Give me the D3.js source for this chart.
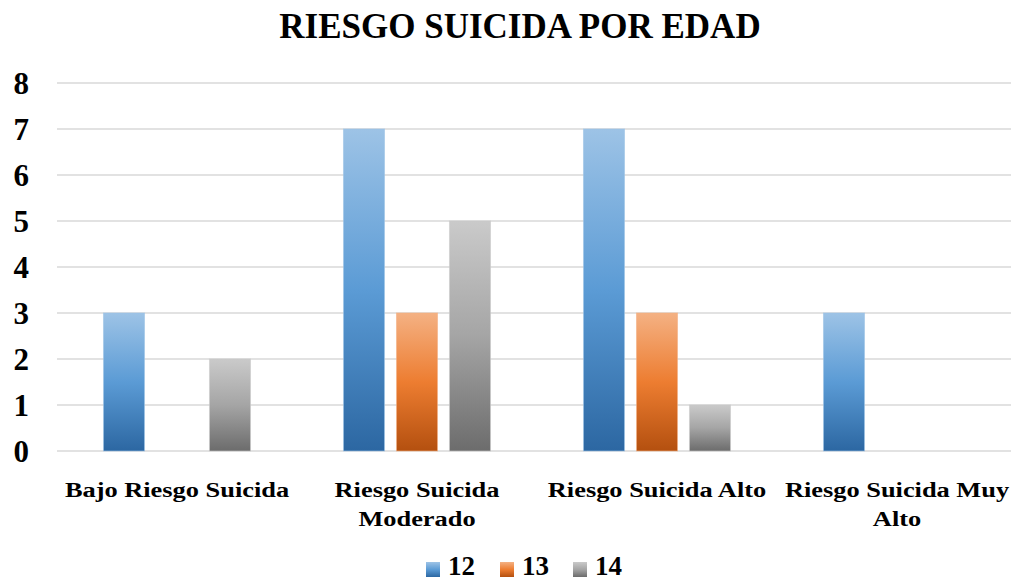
<!DOCTYPE html>
<html>
<head>
<meta charset="utf-8">
<script src="https://cdn.jsdelivr.net/npm/d3@7"></script>
<style>
    body { margin: 0; background: #fff; }
    svg text { font-family: 'Liberation Serif', 'DejaVu Serif', serif; font-weight: 700; fill: #000; }
</style>
</head>
<body>
<div id="chart"></div>
<script>
    // data
    var categories = ['Bajo Riesgo Suicida', 'Riesgo Suicida Moderado', 'Riesgo Suicida Alto', 'Riesgo Suicida Muy Alto'];
    var seriesNames = ['12', '13', '14'];
    var values12 = [3, 7, 7, 3];
    var values13 = [0, 3, 3, 0];
    var values14 = [2, 5, 1, 0];
    var yTicks = [0, 1, 2, 3, 4, 5, 6, 7, 8];

    var width = 1011;
    var height = 582;
    var margin = { top: 83, right: -6, bottom: 131, left: 57 };
    var serif = "'Liberation Serif', 'DejaVu Serif', serif";
    var labelStretch = 1.2; // the source font is wider than ours

    // top, middle, bottom stops of each gradient
    var gradients = [
        ['#9dc3e6', '#5b9bd5', '#2c67a2'],
        ['#f4b183', '#ed7d31', '#b4500f'],
        ['#cacaca', '#a5a5a5', '#6c6c6c']
    ];

    var table = categories.map((c, i) => ({
        category: c,
        values: [values12[i], values13[i], values14[i]]
    }));

    var svg = d3.select('#chart')
        .append('svg')
        .attr('width', width)
        .attr('height', height);

    var defs = svg.append('defs');
    gradients.forEach((g, i) => {
        var lg = defs.append('linearGradient')
            .attr('id', 'grad' + i)
            .attr('x1', 0).attr('y1', 0).attr('x2', 0).attr('y2', 1);
        lg.append('stop').attr('offset', '0%').attr('stop-color', g[0]);
        lg.append('stop').attr('offset', '50%').attr('stop-color', g[1]);
        lg.append('stop').attr('offset', '100%').attr('stop-color', g[2]);
    });

    var x0 = d3.scaleBand()
        .domain(categories)
        .range([margin.left, width - margin.right]);

    var x1 = d3.scaleBand()
        .domain(seriesNames)
        .range([0, x0.bandwidth()])
        .paddingInner(0.226)
        .paddingOuter(0.877);

    var y = d3.scaleLinear()
        .domain([0, 8])
        .range([height - margin.bottom, margin.top]);

    // gridlines
    svg.append('g')
        .selectAll('line')
        .data(yTicks)
        .join('line')
        .attr('x1', margin.left)
        .attr('x2', width)
        .attr('y1', d => y(d))
        .attr('y2', d => y(d))
        .attr('stroke', '#d9d9d9')
        .attr('stroke-width', 1.5);

    // y labels
    var yAxis = svg.append('g')
        .attr('transform', `translate(${margin.left - 28},0)`)
        .call(d3.axisLeft(y).tickValues(yTicks).tickSize(0).tickPadding(0).tickFormat(d3.format('d')));
    yAxis.select('.domain').remove();
    yAxis.attr('font-family', null).attr('font-size', null);
    yAxis.selectAll('text')
        .style('font-family', serif)
        .style('font-weight', '700')
        .style('font-size', '31px')
        .attr('dy', '0.34em')
        .attr('fill', '#000');

    // bars
    var groups = svg.append('g')
        .selectAll('g')
        .data(table)
        .join('g')
        .attr('transform', d => `translate(${x0(d.category)},0)`);

    groups.selectAll('rect')
        .data(d => d.values.map((v, i) => ({ key: seriesNames[i], value: v, idx: i })))
        .join('rect')
        .filter(d => d.value > 0)
        .attr('x', d => x1(d.key))
        .attr('y', d => y(d.value))
        .attr('width', x1.bandwidth())
        .attr('height', d => y(0) - y(d.value))
        .attr('fill', d => `url(#grad${d.idx})`)
        .attr('stroke', d => gradients[d.idx][0])
        .attr('stroke-opacity', 0.6)
        .attr('stroke-width', 1);

    // category labels, wrapped to band width
    var labels = svg.append('g')
        .selectAll('text')
        .data(categories)
        .join('text')
        .attr('transform', d => `translate(${x0(d) + x0.bandwidth() / 2},${y(0) + 46}) scale(${labelStretch},1)`)
        .attr('text-anchor', 'middle')
        .style('font-size', '22px');

    labels.each(function (d) {
        var el = d3.select(this);
        var words = d.split(' ');
        var line = [];
        var tspan = el.append('tspan').attr('x', 0).attr('dy', 0);
        words.forEach(w => {
            line.push(w);
            tspan.text(line.join(' '));
            if (tspan.node().getComputedTextLength() * labelStretch > 232 && line.length > 1) {
                line.pop();
                tspan.text(line.join(' '));
                line = [w];
                tspan = el.append('tspan').attr('x', 0).attr('dy', 29).text(w);
            }
        });
    });

    // title
    svg.append('text')
        .attr('x', 520)
        .attr('y', 38)
        .attr('text-anchor', 'middle')
        .style('font-size', '35px')
        .text('RIESGO SUICIDA POR EDAD');

    // legend
    var legendX = [426, 500, 573];
    var legend = svg.append('g')
        .selectAll('g')
        .data(seriesNames)
        .join('g')
        .attr('transform', (d, i) => `translate(${legendX[i]},567)`);

    legend.append('rect')
        .attr('x', 0)
        .attr('y', -5)
        .attr('width', 14)
        .attr('height', 15)
        .attr('fill', (d, i) => `url(#grad${i})`);

    legend.append('text')
        .attr('x', 22)
        .attr('y', 8)
        .style('font-size', '27px')
        .text(d => d);
</script>
</body>
</html>
